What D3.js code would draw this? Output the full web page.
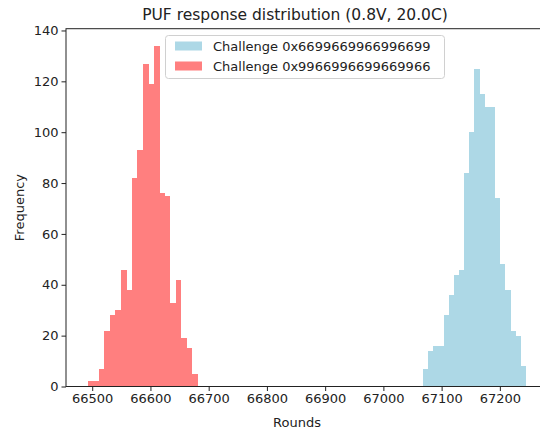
<!DOCTYPE html>
<html>
<head>
<meta charset="utf-8">
<script src="https://cdn.jsdelivr.net/npm/d3@7"></script>
<style>
  html, body { margin: 0; padding: 0; background: #fff; }
  svg { display: block; font-family: "DejaVu Sans", sans-serif; }
</style>
</head>
<body>
<svg id="chart" width="540" height="431"></svg>
<script>
// ---- Data ----
const title = "PUF response distribution (0.8V, 20.0C)";
const xLabel = "Rounds";
const yLabel = "Frequency";
const seriesNames = ["Challenge 0x6699669966996699", "Challenge 0x9966996699669966"];
const seriesColors = ["#add8e6", "#ff7f7f"];

// Blue series (0x6699...) histogram: 20 bins between min and max
const blueRange = [67068.4, 67244.3];
const blueCounts = [7, 14, 16, 16, 28, 36, 44, 46, 84, 100, 125, 115, 110, 110, 74, 48, 38, 22, 20, 8];

// Red series (0x9966...) histogram: 20 bins between min and max
const redRange = [66492.6, 66681.0];
const redCounts = [2, 2, 7, 22, 28, 30, 46, 38, 82, 93, 127, 119, 134, 76, 75, 33, 42, 19, 15, 5];

const xTicks = [66500, 66600, 66700, 66800, 66900, 67000, 67100, 67200];
const yTicks = [0, 20, 40, 60, 80, 100, 120, 140];
const xDomain = [66455, 67282];
const yDomain = [0, 140.7];

(function () {
// ---- Layout ----
const mLeft = 66, mRight = 547.6, mTop = 28.7, mBottom = 386.5;

const svg = d3.select("#chart");
const x = d3.scaleLinear().domain(xDomain).range([mLeft, mRight]);
const y = d3.scaleLinear().domain(yDomain).range([mBottom, mTop]);

function bins(range, counts) {
  const n = counts.length;
  const w = (range[1] - range[0]) / n;
  return counts.map((c, i) => ({ x0: range[0] + i * w, x1: range[0] + (i + 1) * w, c }));
}

svg.append("defs").append("clipPath").attr("id", "plotclip")
  .append("rect").attr("x", mLeft).attr("y", mTop).attr("width", mRight - mLeft).attr("height", mBottom - mTop);

const plot = svg.append("g").attr("clip-path", "url(#plotclip)");

[[blueRange, blueCounts, seriesColors[0]], [redRange, redCounts, seriesColors[1]]].forEach(([r, c, col]) => {
  plot.append("g").selectAll("rect").data(bins(r, c)).join("rect")
    .attr("x", d => x(d.x0))
    .attr("width", d => x(d.x1) - x(d.x0) + 0.3)
    .attr("y", d => y(d.c))
    .attr("height", d => y(0) - y(d.c))
    .attr("fill", col)
    .attr("shape-rendering", "crispEdges");
});

// Axes
const xAxis = d3.axisBottom(x).tickValues(xTicks).tickFormat(d3.format("d")).tickSizeOuter(0).tickSize(4.5).tickPadding(3);
const yAxis = d3.axisLeft(y).tickValues(yTicks).tickFormat(d3.format("d")).tickSizeOuter(0).tickSize(4.5).tickPadding(3);

const gx = svg.append("g").attr("transform", `translate(0,${mBottom})`).call(xAxis);
const gy = svg.append("g").attr("transform", `translate(${mLeft},0)`).call(yAxis);
[gx, gy].forEach(g => {
  g.selectAll("text").attr("font-size", 13).attr("fill", "#222").attr("font-family", "DejaVu Sans");
  g.selectAll("line").attr("stroke", "#222");
  g.select(".domain").remove();
});

// Spines
const spines = svg.append("g").attr("stroke", "#222").attr("stroke-width", 1).attr("fill", "none");
spines.append("rect").attr("x", mLeft).attr("y", mTop).attr("width", mRight - mLeft).attr("height", mBottom - mTop);

// Title and labels
svg.append("text").attr("x", 295).attr("y", 19.5).attr("text-anchor", "middle")
  .attr("font-size", 15.5).attr("fill", "#222").text(title);
svg.append("text").attr("x", 297).attr("y", 427).attr("text-anchor", "middle")
  .attr("font-size", 13).attr("fill", "#222").text(xLabel);
svg.append("text").attr("transform", `translate(24,${(mTop + mBottom) / 2}) rotate(-90)`)
  .attr("text-anchor", "middle").attr("font-size", 13).attr("fill", "#222").text(yLabel);

// Legend
const lg = svg.append("g");
lg.append("rect").attr("x", 165.5).attr("y", 35.5).attr("width", 279).attr("height", 43)
  .attr("rx", 3).attr("fill", "#fff").attr("fill-opacity", 0.8).attr("stroke", "#d0d0d0");
seriesNames.forEach((name, i) => {
  const cy = 46 + i * 20;
  lg.append("rect").attr("x", 175).attr("y", cy - 4.5).attr("width", 27).attr("height", 9).attr("fill", seriesColors[i]);
  lg.append("text").attr("x", 213).attr("y", cy).attr("dominant-baseline", "central")
    .attr("font-size", 13).attr("fill", "#222").text(name);
});
})();
</script>
</body>
</html>
